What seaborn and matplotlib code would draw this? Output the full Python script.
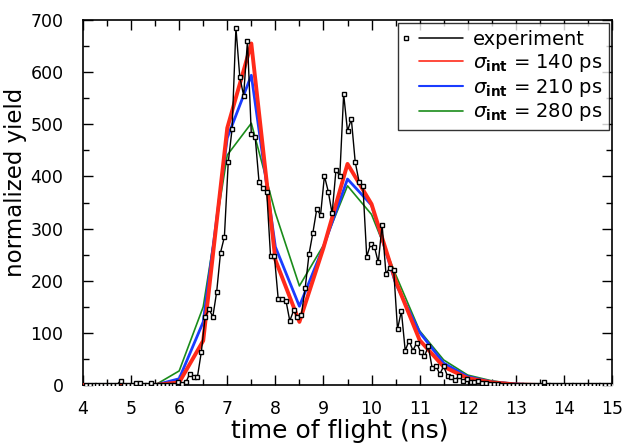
import numpy as np
import pandas as pd
import matplotlib
matplotlib.use("Agg")
import matplotlib.pyplot as plt
from matplotlib.lines import Line2D
from matplotlib.legend_handler import HandlerBase
from matplotlib.ticker import MultipleLocator
import seaborn as sns

# measured time-of-flight spectrum: 0.08 ns bins starting at 4.06 ns
tof_start = 4.06
tof_step = 0.08
exp_yield = [
    0, 0, 0, 0, 0, 0, 0, 0, 0, 8,        # 4.06 - 4.78
    0, 0, 0, 4, 4, 0, 0, 4, 0, 0,        # 4.86 - 5.58
    0, 0, 0, 0, 6, 2, 5, 22, 15, 16,     # 5.66 - 6.38
    63, 131, 145, 131, 179, 254, 284, 427, 491, 685,   # 6.46 - 7.18
    591, 555, 660, 481, 476, 390, 378, 371, 247, 247,  # 7.26 - 7.98
    164, 164, 162, 123, 143, 130, 134, 186, 251, 292,  # 8.06 - 8.78
    337, 326, 401, 371, 329, 412, 401, 558, 487, 510,  # 8.86 - 9.58
    428, 390, 382, 246, 270, 265, 235, 307, 213, 225,  # 9.66 - 10.38
    221, 107, 142, 66, 85, 66, 81, 63, 55, 74,         # 10.46 - 11.18
    33, 36, 21, 36, 17, 15, 10, 17, 8, 12,             # 11.26 - 11.98
    6, 6, 8, 4, 4, 1, 2, 1, 0, 0,                      # 12.06 - 12.78
    0, 0, 0, 0, 0, 0, 0, 0, 0, 5,                      # 12.86 - 13.58
    0, 0, 0, 0, 0, 0, 0, 0, 0, 0,                      # 13.66 - 14.38
    0, 0, 0, 0, 0, 0, 0, 0,                            # 14.46 - 15.02
]
exp_tof = tof_start + tof_step * np.arange(len(exp_yield))

# simulated spectra for three intrinsic time resolutions (0.5 ns grid)
sim_tof = [4.0, 4.5, 5.0, 5.5, 6.0, 6.5, 7.0, 7.5, 8.0, 8.5, 9.0, 9.5,
           10.0, 10.5, 11.0, 11.5, 12.0, 12.5, 13.0, 13.5, 14.0, 14.5, 15.0]
sim_140ps = [0, 0, 0, 0, 5, 85, 493, 655, 240, 121, 263, 424,
             347, 200, 86, 35, 13, 5, 1, 0, 0, 0, 0]
sim_210ps = [0, 0, 0, 0, 12, 121, 474, 594, 265, 151, 265, 395,
             345, 195, 101, 42, 16, 6, 2, 0, 0, 0, 0]
sim_280ps = [0, 0, 0, 0, 27, 150, 441, 502, 330, 190, 268, 382,
             327, 212, 104, 48, 19, 8, 2, 0, 0, 0, 0]

labels = ["experiment",
          r"$\sigma_{\mathbf{int}}$ = 140 ps",
          r"$\sigma_{\mathbf{int}}$ = 210 ps",
          r"$\sigma_{\mathbf{int}}$ = 280 ps"]
colors = {"140": "#ff2a1a", "210": "#1a3cff", "280": "#1a8c1a"}

sns.set_style("ticks")
plt.rcParams["font.family"] = ["DejaVu Sans"]
plt.rcParams["mathtext.fontset"] = "dejavusans"
plt.rcParams["text.color"] = "black"
plt.rcParams["axes.labelcolor"] = "black"
plt.rcParams["xtick.color"] = "black"
plt.rcParams["ytick.color"] = "black"

fig = plt.figure(figsize=(6.22, 4.48), dpi=100)
ax = fig.add_axes([83 / 622, 1 - 385 / 448, (612 - 83) / 622, (385 - 20) / 448])

sim = pd.DataFrame({"tof": sim_tof, "140": sim_140ps, "210": sim_210ps, "280": sim_280ps})
exp = pd.DataFrame({"tof": exp_tof, "yield": exp_yield})

sns.lineplot(data=sim, x="tof", y="280", ax=ax, color=colors["280"], lw=1.2, zorder=3)
sns.lineplot(data=sim, x="tof", y="210", ax=ax, color=colors["210"], lw=2.0, zorder=4)
sns.lineplot(data=sim, x="tof", y="140", ax=ax, color=colors["140"], lw=2.8, zorder=5)
sns.lineplot(data=exp, x="tof", y="yield", ax=ax, color="black", lw=1.0,
             marker="s", markersize=3.2, markerfacecolor="white",
             markeredgecolor="black", markeredgewidth=1.0, zorder=6)

ax.set_xlim(4, 15)
ax.set_ylim(0, 700)
ax.xaxis.set_major_locator(MultipleLocator(1))
ax.xaxis.set_minor_locator(MultipleLocator(0.5))
ax.yaxis.set_major_locator(MultipleLocator(100))
ax.yaxis.set_minor_locator(MultipleLocator(50))
ax.tick_params(which="both", direction="in", top=True, right=True,
               color="black", width=1.0)
ax.tick_params(which="major", length=7, labelsize=12.5)
ax.tick_params(which="minor", length=4)
ax.tick_params(axis="x", which="major", pad=11)
ax.tick_params(axis="y", which="major", pad=14)
for sp in ax.spines.values():
    sp.set_color("black")
    sp.set_linewidth(1.2)

ax.set_xlabel("time of flight (ns)", fontsize=18)
ax.set_ylabel("normalized yield", fontsize=16.5)
ax.xaxis.set_label_coords(0.486, -0.094)
ax.yaxis.set_label_coords(-0.105, 0.555)


class MarkerThenLine(HandlerBase):
    """Legend key with an optional marker on the left and a line segment on the right."""

    def create_artists(self, legend, orig_handle, xdescent, ydescent,
                       width, height, fontsize, trans):
        y = height / 2 - ydescent
        x0 = -xdescent
        artists = []
        seg = Line2D([x0 + 0.25 * width, x0 + width], [y, y],
                     color=orig_handle.get_color(), lw=orig_handle.get_linewidth())
        seg.set_transform(trans)
        artists.append(seg)
        if orig_handle.get_marker() not in (None, "None", "", " "):
            mk = Line2D([x0 + 0.02 * width], [y], ls="none",
                        marker=orig_handle.get_marker(),
                        markersize=orig_handle.get_markersize(),
                        markerfacecolor="white", markeredgecolor="black",
                        markeredgewidth=1.0)
            mk.set_transform(trans)
            artists.append(mk)
        return artists


handles = [
    Line2D([], [], color="black", lw=1.1, marker="s", markersize=3.2),
    Line2D([], [], color=colors["140"], lw=1.2),
    Line2D([], [], color=colors["210"], lw=1.5),
    Line2D([], [], color=colors["280"], lw=1.2),
]
leg = ax.legend(handles, labels, loc="upper right", fontsize=14,
                handler_map={Line2D: MarkerThenLine()},
                handlelength=3.0, handletextpad=0.5, labelspacing=0.15,
                borderpad=0.35, borderaxespad=0.15, fancybox=False,
                frameon=True, edgecolor="black")
leg.get_frame().set_linewidth(1.0)
leg.set_zorder(10)

fig.savefig("out.png", dpi=100)
